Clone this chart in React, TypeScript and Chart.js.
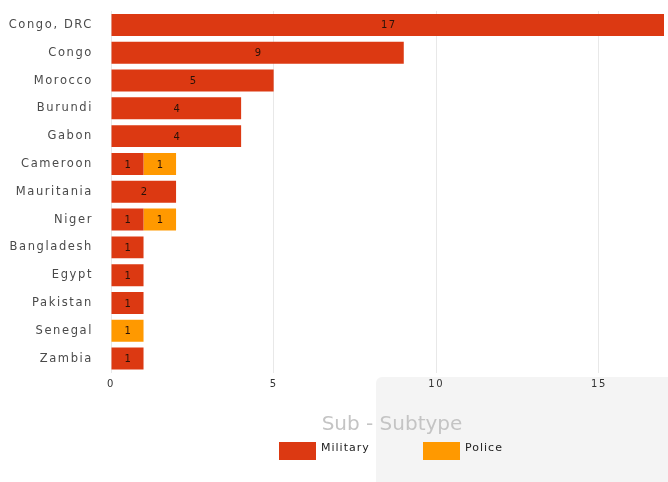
import React, { useEffect, useRef } from "react";
import { Chart, registerables } from "chart.js";

Chart.register(...registerables);

const countries = [
  "Congo, DRC", "Congo", "Morocco", "Burundi", "Gabon", "Cameroon", "Mauritania",
  "Niger", "Bangladesh", "Egypt", "Pakistan", "Senegal", "Zambia",
];
const military = [17, 9, 5, 4, 4, 1, 2, 1, 1, 1, 1, 0, 1];
const police = [0, 0, 0, 0, 0, 1, 0, 1, 0, 0, 0, 1, 0];
const seriesNames = ["Military", "Police"];
const seriesColors = ["#dc3912", "#ff9900"];
const legendTitle = "Sub - Subtype";

const FONT = "'DejaVu Sans', Verdana, sans-serif";

const spacing = {
  id: "spacing",
  beforeUpdate(chart: any) { (chart.ctx as any).letterSpacing = "1.6px"; },
  beforeLayout(chart: any) { (chart.ctx as any).letterSpacing = "1.6px"; },
  beforeDraw(chart: any) { (chart.ctx as any).letterSpacing = "1.6px"; },
};

const barLabels = {
  id: "barLabels",
  afterDatasetsDraw(chart: any) {
    const ctx = chart.ctx;
    ctx.save();
    ctx.letterSpacing = "1.5px";
    ctx.font = `10px ${FONT}`;
    ctx.fillStyle = "#2a1208";
    ctx.textAlign = "center";
    ctx.textBaseline = "middle";
    chart.data.datasets.forEach((ds: any, di: number) => {
      const meta = chart.getDatasetMeta(di);
      meta.data.forEach((bar: any, i: number) => {
        const v = ds.data[i];
        if (!v) return;
        const cx = (bar.x + bar.base) / 2 + 1;
        ctx.fillText(String(v), cx, bar.y + 1);
      });
    });
    ctx.restore();
  },
};

export default function App() {
  const ref = useRef<HTMLCanvasElement>(null);
  useEffect(() => {
    document.body.style.margin = "0";
    const chart = new Chart(ref.current!, {
      type: "bar",
      data: {
        labels: countries,
        datasets: [
          { label: seriesNames[0], data: military, backgroundColor: seriesColors[0] },
          { label: seriesNames[1], data: police, backgroundColor: seriesColors[1] },
        ],
      },
      options: {
        indexAxis: "y",
        animation: false,
        responsive: false,
        layout: { padding: { top: 11, right: 4, bottom: 85.5, left: 0 } },
        datasets: { bar: { categoryPercentage: 1, barPercentage: 0.79 } } as any,
        scales: {
          x: {
            stacked: true,
            min: 0,
            max: 17,
            border: { display: false },
            grid: { color: "#e8e8e8", drawTicks: false },
            afterBuildTicks: (s: any) => {
              s.ticks = s.ticks.filter((t: any) => t.value % 5 === 0);
            },
            ticks: {
              stepSize: 5,
              padding: 6,
              color: "#333",
              font: { family: FONT, size: 10 },
            },
          },
          y: {
            stacked: true,
            border: { display: false },
            grid: { display: false },
            afterFit: (s: any) => { s.width = 111; s.paddingTop = 0; s.paddingBottom = 0; },
            ticks: {
              padding: 10,
              color: "#4a4a4a",
              font: { family: FONT, size: 11.5 },
            },
          },
        },
        plugins: {
          tooltip: { enabled: false },
          legend: { display: false },
        },
      },
      plugins: [spacing, barLabels],
    });
    return () => chart.destroy();
  }, []);
  const itemLefts = [279, 423];
  return (
    <div style={{ position: "relative", width: 668, height: 482, fontFamily: FONT }}>
      <div style={{ position: "absolute", left: 376, top: 377, right: 0, bottom: 0, background: "#f4f4f4", borderTopLeftRadius: 6 }} />
      <canvas ref={ref} width={668} height={482} style={{ position: "absolute", left: 0, top: 0 }} />
      <div style={{ position: "absolute", left: 292, width: 200, top: 411, textAlign: "center", fontSize: 20, color: "#c4c4c4", lineHeight: "24px" }}>
        {legendTitle}
      </div>
      {seriesNames.map((n, i) => (
        <div key={n} style={{ position: "absolute", left: itemLefts[i], top: 442, display: "flex", alignItems: "flex-start" }}>
          <div style={{ width: 37, height: 18, background: seriesColors[i] }} />
          <span style={{ marginLeft: 5, fontSize: 11, color: "#222", lineHeight: "12px", letterSpacing: 1 }}>{n}</span>
        </div>
      ))}
    </div>
  );
}
